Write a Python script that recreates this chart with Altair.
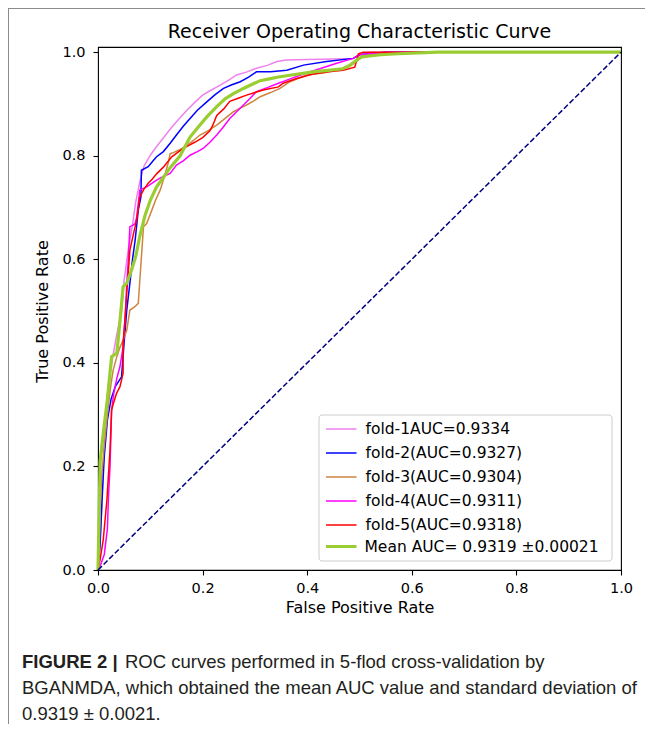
import altair as alt
import pandas as pd

labels = [
    "fold-1AUC=0.9334",
    "fold-2(AUC=0.9327)",
    "fold-3(AUC=0.9304)",
    "fold-4(AUC=0.9311)",
    "fold-5(AUC=0.9318)",
    "Mean AUC= 0.9319 \u00b10.00021",
]
colors = ["#EE82EE", "#0000FF", "#CD853F", "#FF00FF", "#FF0000", "#9ACD32"]
fold_width = 1.5
mean_width = 3.2

fpr1 = [0, 0.003, 0.006, 0.01, 0.015, 0.02, 0.028, 0.035, 0.045, 0.05,
        0.058, 0.065, 0.072, 0.08, 0.088, 0.1, 0.11, 0.12, 0.133, 0.145,
        0.158, 0.17, 0.185, 0.2, 0.215, 0.233, 0.25, 0.265, 0.285, 0.303,
        0.325, 0.342, 0.36, 0.4, 0.45, 0.488, 0.5, 0.52, 0.6, 1.0]
tpr1 = [0, 0.03, 0.1, 0.2, 0.3, 0.36, 0.41, 0.45, 0.5, 0.56,
        0.62, 0.66, 0.71, 0.75, 0.78, 0.801, 0.815, 0.828, 0.845, 0.86,
        0.875, 0.888, 0.903, 0.917, 0.926, 0.936, 0.946, 0.956, 0.962, 0.969,
        0.975, 0.982, 0.985, 0.986, 0.987, 0.988, 0.995, 1.0, 1.0, 1.0]

fpr2 = [0, 0.004, 0.008, 0.012, 0.018, 0.025, 0.033, 0.045, 0.05, 0.055,
        0.061, 0.066, 0.071, 0.077, 0.082, 0.083, 0.096, 0.105, 0.112, 0.125,
        0.138, 0.15, 0.163, 0.176, 0.19, 0.208, 0.224, 0.24, 0.256, 0.272,
        0.288, 0.303, 0.33, 0.361, 0.393, 0.437, 0.488, 0.5, 0.55, 1.0]
tpr2 = [0, 0.05, 0.14, 0.22, 0.29, 0.33, 0.354, 0.373, 0.44, 0.502,
        0.554, 0.6, 0.637, 0.695, 0.72, 0.772, 0.779, 0.79, 0.798, 0.808,
        0.824, 0.84, 0.857, 0.872, 0.888, 0.904, 0.918, 0.93, 0.937, 0.943,
        0.952, 0.962, 0.962, 0.965, 0.975, 0.982, 0.988, 0.995, 1.0, 1.0]

fpr3 = [0, 0.002, 0.004, 0.007, 0.012, 0.017, 0.021, 0.025, 0.029, 0.036,
        0.042, 0.048, 0.055, 0.061, 0.07, 0.077, 0.08, 0.087, 0.093, 0.103,
        0.11, 0.119, 0.127, 0.134, 0.138, 0.144, 0.155, 0.17, 0.183, 0.195,
        0.21, 0.227, 0.243, 0.259, 0.272, 0.284, 0.298, 0.31, 0.33, 0.348,
        0.367, 0.399, 0.43, 0.456, 0.48, 0.495, 0.507, 0.55, 0.6, 1.0]
tpr3 = [0, 0.05, 0.12, 0.18, 0.24, 0.29, 0.328, 0.36, 0.386, 0.412,
        0.43, 0.444, 0.463, 0.502, 0.508, 0.515, 0.56, 0.663, 0.669, 0.695,
        0.714, 0.734, 0.76, 0.785, 0.804, 0.806, 0.811, 0.82, 0.83, 0.84,
        0.848, 0.859, 0.872, 0.885, 0.892, 0.898, 0.906, 0.914, 0.922, 0.93,
        0.943, 0.956, 0.96, 0.965, 0.972, 0.982, 0.994, 0.997, 1.0, 1.0]

fpr4 = [0, 0.005, 0.012, 0.018, 0.02, 0.023, 0.026, 0.03, 0.036, 0.042,
        0.048, 0.052, 0.055, 0.058, 0.061, 0.067, 0.071, 0.074, 0.08, 0.093,
        0.105, 0.112, 0.125, 0.138, 0.15, 0.163, 0.176, 0.19, 0.201, 0.214,
        0.227, 0.24, 0.252, 0.265, 0.278, 0.29, 0.303, 0.325, 0.345, 0.361,
        0.393, 0.424, 0.455, 0.488, 0.5, 0.55, 1.0]
tpr4 = [0, 0.01, 0.03, 0.08, 0.14, 0.2, 0.309, 0.34, 0.37, 0.393,
        0.431, 0.49, 0.553, 0.6, 0.663, 0.666, 0.669, 0.682, 0.734, 0.74,
        0.748, 0.753, 0.76, 0.766, 0.782, 0.79, 0.801, 0.808, 0.814, 0.826,
        0.84, 0.856, 0.872, 0.885, 0.898, 0.91, 0.924, 0.932, 0.94, 0.946,
        0.958, 0.968, 0.978, 0.988, 0.995, 1.0, 1.0]

fpr5 = [0, 0.004, 0.01, 0.017, 0.023, 0.026, 0.029, 0.035, 0.042, 0.048,
        0.048, 0.052, 0.055, 0.061, 0.068, 0.074, 0.08, 0.087, 0.096, 0.104,
        0.112, 0.125, 0.141, 0.157, 0.17, 0.185, 0.2, 0.214, 0.22, 0.227,
        0.24, 0.252, 0.268, 0.284, 0.3, 0.316, 0.345, 0.354, 0.38, 0.411,
        0.44, 0.469, 0.491, 0.498, 0.507, 0.6, 1.0]
tpr5 = [0, 0.02, 0.058, 0.135, 0.232, 0.309, 0.32, 0.34, 0.354, 0.38,
        0.438, 0.49, 0.534, 0.618, 0.65, 0.676, 0.72, 0.734, 0.747, 0.755,
        0.765, 0.778, 0.798, 0.81, 0.818, 0.826, 0.835, 0.848, 0.86, 0.878,
        0.89, 0.905, 0.911, 0.917, 0.922, 0.927, 0.933, 0.94, 0.949, 0.958,
        0.962, 0.965, 0.971, 0.997, 1.0, 1.0, 1.0]

fprm = [0, 0.002, 0.004, 0.012, 0.018, 0.026, 0.036, 0.042, 0.048, 0.055,
        0.064, 0.072, 0.08, 0.09, 0.1, 0.112, 0.125, 0.138, 0.157, 0.176,
        0.189, 0.208, 0.227, 0.243, 0.259, 0.278, 0.295, 0.31, 0.33, 0.345,
        0.37, 0.411, 0.44, 0.468, 0.482, 0.495, 0.504, 0.54, 0.574, 0.65, 1.0]
tprm = [0, 0.1, 0.21, 0.28, 0.33, 0.412, 0.419, 0.48, 0.547, 0.554,
        0.579, 0.605, 0.645, 0.685, 0.714, 0.74, 0.758, 0.777, 0.8, 0.836,
        0.852, 0.875, 0.895, 0.91, 0.92, 0.93, 0.938, 0.945, 0.949, 0.952,
        0.956, 0.962, 0.965, 0.968, 0.975, 0.985, 0.991, 0.995, 0.997, 1.0, 1.0]

diag_fpr = [0.0, 1.0]
diag_tpr = [0.0, 1.0]

xticks = [0.0, 0.2, 0.4, 0.6, 0.8, 1.0]
yticks = [0.0, 0.2, 0.4, 0.6, 0.8, 1.0]

title_text = "Receiver Operating Characteristic Curve"
cap1_bold = "FIGURE 2 |"
cap1 = "ROC curves performed in 5-flod cross-validation by"
cap2 = "BGANMDA, which obtained the mean AUC value and standard deviation of"
cap3 = "0.9319 \u00b1 0.0021."

fprs = [fpr1, fpr2, fpr3, fpr4, fpr5, fprm]
tprs = [tpr1, tpr2, tpr3, tpr4, tpr5, tprm]

rows = []
for name, xs, ys in zip(labels, fprs, tprs):
    assert len(xs) == len(ys), name
    for i, (a, b) in enumerate(zip(xs, ys)):
        rows.append({"series": name, "fpr": a, "tpr": b, "idx": i})
df = pd.DataFrame(rows)
df_folds = df[df["series"] != labels[-1]]
df_mean = df[df["series"] == labels[-1]]

xscale = alt.Scale(domain=[0, 1], nice=False, zero=False)
yscale = alt.Scale(domain=[0, 1.01], nice=False, zero=False)

# legend geometry (relative to plot origin)
LX, LY, LW, LH = 221, 368, 293, 146
ROW = 23.5
ENTRY_H = 16
LEG_FONT = 15.5
common_leg = dict(
    title=None, orient="none", legendX=LX,
    symbolType="stroke", symbolSize=1156, clipHeight=ENTRY_H, rowPadding=7,
    padding=7, labelLimit=400,
    labelFont="DejaVu Sans", labelFontSize=LEG_FONT, labelColor="black",
)
leg_folds = alt.Legend(legendY=LY - 1, symbolStrokeWidth=fold_width,
                       symbolOffset=-4.5, labelOffset=8, **common_leg)
leg_mean = alt.Legend(legendY=LY - 1 + 5 * ROW, symbolStrokeWidth=mean_width,
                      symbolOffset=-5.5, labelOffset=6, **common_leg)

xenc = alt.X("fpr:Q", scale=xscale,
             axis=alt.Axis(values=xticks, format=".1f", title="False Positive Rate",
                           titleY=37, titleBaseline="middle", labelPadding=6))
yenc = alt.Y("tpr:Q", scale=yscale,
             axis=alt.Axis(values=yticks, format=".1f", title="True Positive Rate",
                           titleX=-56, titleY=264, titleBaseline="middle",
                           labelPadding=8))

folds = alt.Chart(df_folds).mark_line(strokeWidth=fold_width).encode(
    x=xenc, y=yenc,
    color=alt.Color("series:N", scale=alt.Scale(domain=labels[:5], range=colors[:5]),
                    sort=labels[:5], legend=leg_folds),
    order=alt.Order("idx:Q"))
mean = alt.Chart(df_mean).mark_line(strokeWidth=mean_width).encode(
    x=xenc, y=yenc,
    color=alt.Color("series:N", scale=alt.Scale(domain=labels[5:], range=colors[5:]),
                    legend=leg_mean),
    order=alt.Order("idx:Q"))

diag = alt.Chart(pd.DataFrame({"fpr": diag_fpr, "tpr": diag_tpr})).mark_line(
    color="#000080", strokeDash=[5.5, 2.4], strokeWidth=1.5
).encode(x="fpr:Q", y="tpr:Q")

legend_box = alt.Chart(pd.DataFrame({"a": [0]})).mark_rect(
    fill="white", stroke="#cccccc", strokeWidth=1, cornerRadius=3
).encode(x=alt.value(LX), x2=alt.value(LX + LW), y=alt.value(LY), y2=alt.value(LY + LH))

cap_style = dict(font="Liberation Sans", fontSize=18.5, color="#231f20",
                 align="left", baseline="middle")


def text_layer(t, x, y, style, **kw):
    return alt.Chart(pd.DataFrame({"t": [t]})).mark_text(**style, **kw).encode(
        text="t:N", x=alt.value(x), y=alt.value(y))


title_layer = text_layer(title_text, 261.5, -9,
                         dict(font="DejaVu Sans", fontSize=19, color="black",
                              align="center", baseline="alphabetic"))
c1b = text_layer(cap1_bold, -76, 615, cap_style, fontWeight="bold")
c1 = text_layer(cap1, 27, 615, cap_style)
c2 = text_layer(cap2, -76, 641, cap_style)
c3 = text_layer(cap3, -76, 667, cap_style)

frame_top = alt.Chart(pd.DataFrame({"a": [0]})).mark_rule(color="#8c8c8c", strokeWidth=1).encode(
    x=alt.value(-90), x2=alt.value(560), y=alt.value(-38.5))
frame_left = alt.Chart(pd.DataFrame({"a": [0]})).mark_rule(color="#8c8c8c", strokeWidth=1).encode(
    x=alt.value(-89.5), y=alt.value(-39), y2=alt.value(690))

chart = alt.layer(
    folds, mean, diag, legend_box, title_layer, c1b, c1, c2, c3, frame_top, frame_left
).resolve_scale(color="independent").properties(
    width=523, height=523,
    padding={"left": 90, "top": 39, "right": 24, "bottom": 154},
    autosize=alt.AutoSizeParams(type="none"),
).configure_view(stroke="black", strokeWidth=1.1).configure_axis(
    domain=False, grid=False, ticks=True, tickColor="black", tickSize=5, tickWidth=1.1,
    labelFont="DejaVu Sans", labelFontSize=14.5, labelColor="black", labelPadding=5,
    titleFont="DejaVu Sans", titleFontSize=16, titleColor="black", titleFontWeight="normal",
    labelFlush=False, labelOverlap=False,
)

chart.save("out.html", embed_options={"renderer": "svg", "actions": False})
